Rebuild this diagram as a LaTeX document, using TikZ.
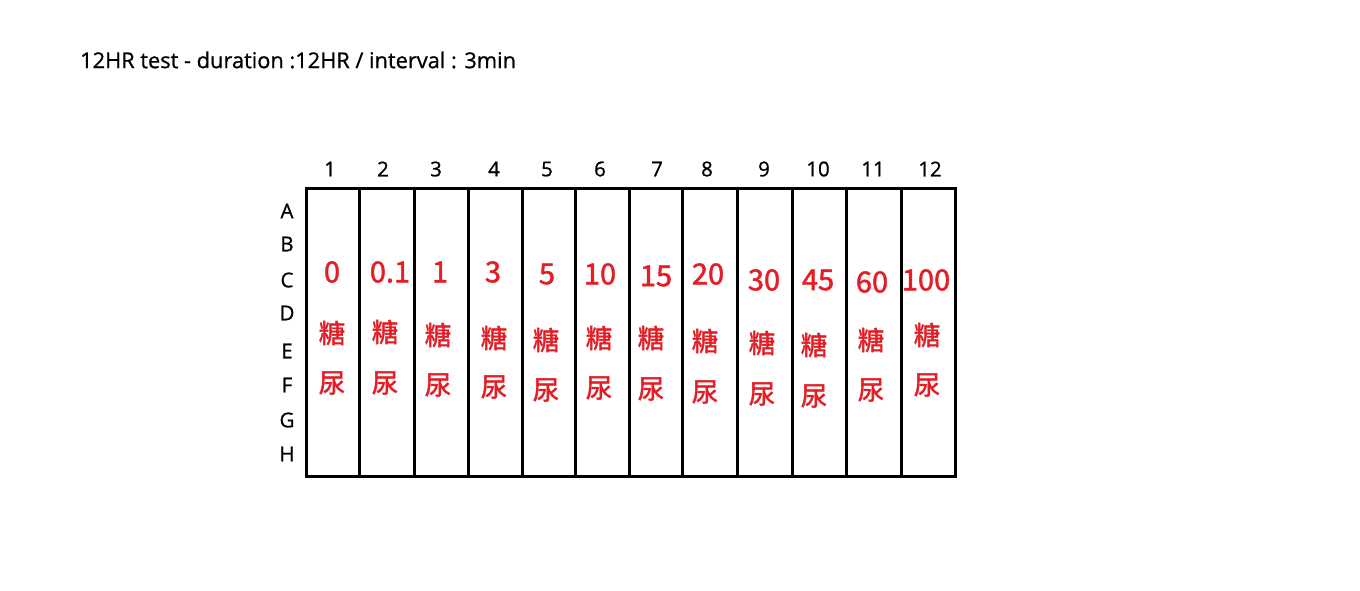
\documentclass[tikz,border=0pt]{standalone}
\usepackage{fontspec}
\setmainfont{Open Sans}
\newfontfamily\cjk{Noto Sans CJK TC}[FakeBold=1.6]
\newfontfamily\plain{Open Sans}[FakeBold=0.8]
\definecolor{lblred}{RGB}{228,30,38}
\begin{document}
\begin{tikzpicture}[x=1pt,y=-1pt,
  title/.style={anchor=west,inner sep=0pt,font=\plain\fontsize{21.8}{26}\selectfont},
  hdr/.style={inner sep=0pt,font=\plain\fontsize{20.5}{22}\selectfont},
  val/.style={inner sep=0pt,text=lblred,font=\cjk\fontsize{29}{32}\selectfont},
  chr/.style={inner sep=0pt,text=lblred,font=\cjk\fontsize{26.5}{30}\selectfont},
  well/.style={draw=black,line width=3pt}]
\useasboundingbox (0,0) rectangle (1360,590);
\fill[white] (0,0) rectangle (1360,590);
\node[title] (t) at (80,60) {12HR test - duration :12HR / interval : 3min};
% columns
\foreach \a/\b [count=\i] in {306/359.5,359.5/414,414/468,468/522,522/575,575/629,629/682,682/737.5,737.5/792.5,792.5/846,846/901,901/955.5}
  \draw[well] (\a,188) rectangle (\b,476) coordinate (c\i);
% column headers
\foreach \x/\t [count=\i] in {330/1,383/2,436/3,494/4,547/5,600/6,657/7,707/8,764/9,818/10,873/11,930/12}
  \node[hdr] (h\i) at (\x,169) {\t};
% row labels
\foreach \y/\t in {211/A,244/B,280/C,313/D,351/E,385/F,420/G,454/H}
  \node[hdr] (r\t) at (287,\y) {\t};
% values
\foreach \x/\y/\t [count=\i] in {332/272/0,390/272/0.1,440/272/1,493/272/3,547/274/5,600/274/10,656/276/15,708/274/20,764/280/30,818/280/45,872/282/60,926/280/100}
  \node[val] (v\i) at (\x,\y) {\t};
\foreach \x/\y [count=\i] in {332/333,385/332,438/335,494/338,546/340,599/338,651/338,705/341,762/343,814/345,871/340,927/335}
  \node[chr] (s\i) at (\x,\y) {糖};
\foreach \x/\y [count=\i] in {332/383,385/383,438/385,494/387,546/390,599/388,651/389,705/392,762/394,814/396,871/390,927/385}
  \node[chr] (u\i) at (\x,\y) {尿};
\end{tikzpicture}
\end{document}
